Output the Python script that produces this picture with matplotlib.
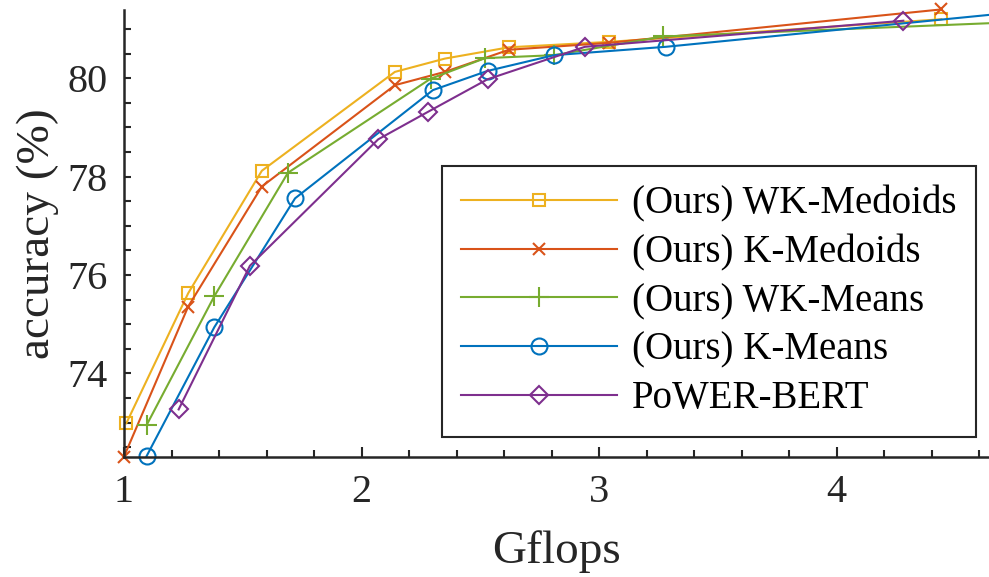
import matplotlib
matplotlib.use("Agg")
import matplotlib.pyplot as plt
from matplotlib.ticker import MultipleLocator

# Data (Gflops vs accuracy %)
wkmed_x = [1.01, 1.27, 1.58, 2.14, 2.35, 2.62, 3.04, 4.44]
wkmed_y = [72.99, 75.63, 78.12, 80.13, 80.40, 80.63, 80.74, 81.20]

kmed_x = [1.00, 1.27, 1.58, 2.14, 2.35, 2.62, 3.04, 4.44]
kmed_y = [72.31, 75.36, 77.80, 79.86, 80.13, 80.58, 80.72, 81.40]

wkmeans_x = [1.095, 1.38, 1.69, 2.29, 2.52, 2.81, 3.27, 5.00]
wkmeans_y = [72.95, 75.57, 78.08, 79.99, 80.41, 80.47, 80.85, 81.19]

kmeans_x = [1.095, 1.38, 1.72, 2.30, 2.53, 2.81, 3.28, 5.00]
kmeans_y = [72.32, 74.94, 77.56, 79.76, 80.15, 80.47, 80.64, 81.46]

power_x = [1.23, 1.53, 2.07, 2.28, 2.53, 2.94, 4.28]
power_y = [73.27, 76.19, 78.76, 79.32, 79.98, 80.64, 81.17]

labels = ["(Ours) WK-Medoids", "(Ours) K-Medoids", "(Ours) WK-Means",
          "(Ours) K-Means", "PoWER-BERT"]
xticks = [1, 2, 3, 4]
yticks = [74, 76, 78, 80]

plt.rcParams['font.family'] = ['Liberation Serif', 'DejaVu Serif']
plt.rcParams['mathtext.fontset'] = 'stix'

fig = plt.figure(figsize=(9.89, 5.77), dpi=100)
ax = fig.add_axes([124/989, 1 - 457/577, 1 - 124/989, 447/577])

series = [
    (wkmed_x, wkmed_y, '#EDB120', 's', 8.5, labels[0]),
    (kmed_x, kmed_y, '#D95319', 'x', 8.0, labels[1]),
    (wkmeans_x, wkmeans_y, '#77AC30', '+', 14.0, labels[2]),
    (kmeans_x, kmeans_y, '#0072BD', 'o', 11.5, labels[3]),
    (power_x, power_y, '#7E2F8E', 'D', 9.5, labels[4]),
]
for x, y, c, m, ms, lab in series:
    ax.plot(x, y, color=c, marker=m, markersize=ms, markerfacecolor='none',
            markeredgecolor=c, markeredgewidth=1.5, linewidth=1.5,
            label=lab, clip_on=False)

ax.set_xlim(1, 1 + 865/237.6)
ax.set_ylim(80 - (457 - 78.3)/49.2, 80 + (78.3 - 10)/49.2)

ax.set_xticks(xticks)
ax.set_yticks(yticks)
ax.xaxis.set_minor_locator(MultipleLocator(0.2))
ax.yaxis.set_minor_locator(MultipleLocator(0.5))
ax.tick_params(which='both', direction='in', colors='#262626', width=1.5,
               labelsize=29, labelcolor='#262626')
ax.tick_params(which='major', length=7, pad=12)
ax.tick_params(which='minor', length=5)
ax.tick_params(axis='y', which='major', length=5)

for s in ['top', 'right']:
    ax.spines[s].set_visible(False)
for s in ['left', 'bottom']:
    ax.spines[s].set_color('#262626')
    ax.spines[s].set_linewidth(1.8)

ax.set_xlabel('Gflops', fontsize=34, color='#262626', labelpad=14)
ax.set_ylabel('accuracy (%)', fontsize=34, color='#262626', labelpad=6)

leg = ax.legend(loc='lower right', bbox_to_anchor=(0.985, 0.045),
                fontsize=28, handlelength=4.0, frameon=True, fancybox=False,
                borderpad=0.5, labelspacing=0.3, handletextpad=0.4,
                borderaxespad=0)
leg.get_frame().set_edgecolor('#262626')
leg.get_frame().set_linewidth(1.5)
leg.get_frame().set_alpha(1)

fig.savefig('out.png', dpi=100)
